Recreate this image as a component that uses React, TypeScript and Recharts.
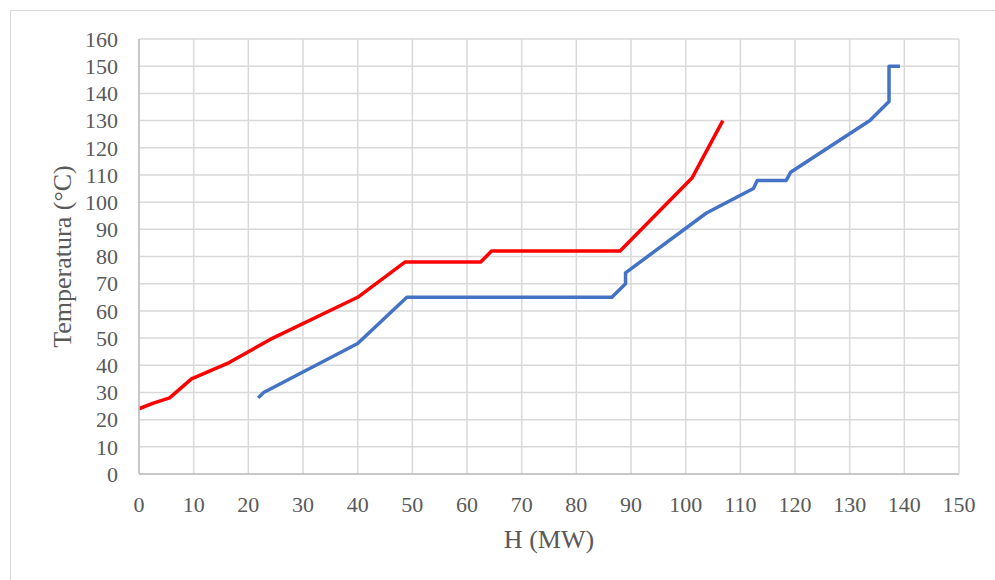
import React from 'react';
import { LineChart, Line, XAxis, YAxis, CartesianGrid } from 'recharts';

const xTicks = [0, 10, 20, 30, 40, 50, 60, 70, 80, 90, 100, 110, 120, 130, 140, 150];
const yTicks = [0, 10, 20, 30, 40, 50, 60, 70, 80, 90, 100, 110, 120, 130, 140, 150, 160];

const redH = [0, 2.5, 5.6, 9.6, 16.5, 24, 40, 48.7, 62.5, 64.5, 88, 101.2, 106.8];
const redT = [24, 26, 28, 35, 41, 49.5, 65, 78, 78, 82, 82, 109, 130];

const blueH = [21.8, 22.8, 40, 49, 86.5, 89, 89, 103.8, 112.4, 113.1, 118.4, 119.2, 133.7, 137.2, 137.2, 139.2];
const blueT = [28, 30, 48, 65, 65, 70, 74, 96, 105, 108, 108, 111, 130, 137, 150, 150];

const redData = redH.map((h, i) => ({ h, t: redT[i] }));
const blueData = blueH.map((h, i) => ({ h, t: blueT[i] }));

const font = '"Liberation Serif", "Times New Roman", serif';

export default function App() {
  return (
    <div style={{ position: 'absolute', left: 0, top: 0, width: 995, height: 580, overflow: 'hidden', background: '#fff' }}>
      <div style={{ position: 'absolute', left: 10, top: 10, width: 1000, height: 600, border: '1.5px solid #d9d9d9', boxSizing: 'border-box' }} />
      <div style={{ position: 'absolute', left: 0, top: 0 }}>
        <LineChart width={995} height={580} margin={{ top: 39, right: 36, bottom: 26, left: 59 }}>
          <CartesianGrid stroke="#d9d9d9" strokeWidth={1.5} horizontalValues={yTicks} verticalValues={xTicks} />
          <XAxis
            type="number"
            dataKey="h"
            domain={[0, 150]}
            ticks={xTicks}
            interval={0}
            allowDataOverflow
            height={80}
            tickSize={0}
            tickMargin={22}
            axisLine={{ stroke: '#bfbfbf', strokeWidth: 1.5 }}
            tick={{ fill: '#595959', fontSize: 22, fontFamily: font }}
            label={{ value: 'H (MW)', position: 'insideBottom', offset: 6, fill: '#595959', fontSize: 26, fontFamily: font }}
          />
          <YAxis
            type="number"
            dataKey="t"
            domain={[0, 160]}
            ticks={yTicks}
            interval={0}
            allowDataOverflow
            width={80}
            tickSize={0}
            tickMargin={21}
            axisLine={{ stroke: '#bfbfbf', strokeWidth: 1.5 }}
            tick={{ fill: '#595959', fontSize: 22, fontFamily: font }}
            label={{ value: 'Temperatura (°C)', angle: -90, position: 'insideLeft', offset: 3, fill: '#595959', fontSize: 26, fontFamily: font, style: { textAnchor: 'middle' } }}
          />
          <Line data={redData} dataKey="t" type="linear" stroke="#ff0000" strokeWidth={3.5} dot={false} isAnimationActive={false} strokeLinejoin="round" />
          <Line data={blueData} dataKey="t" type="linear" stroke="#4472c4" strokeWidth={3.5} dot={false} isAnimationActive={false} strokeLinejoin="round" />
        </LineChart>
      </div>
    </div>
  );
}
